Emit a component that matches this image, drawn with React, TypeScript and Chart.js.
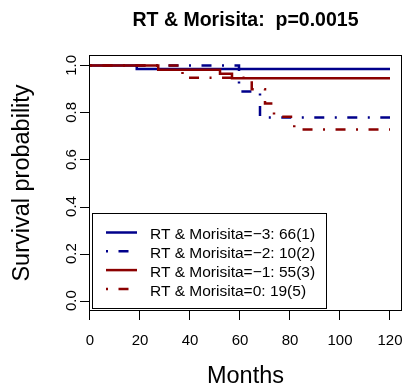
import { useEffect, useRef } from "react";
import { Chart, registerables } from "chart.js";

Chart.register(...registerables);

// Kaplan–Meier step data: time of each drop (months) and survival after it
const timesNeg3 = [0, 18.7, 120];
const survNeg3 = [1, 0.985, 0.985];
const timesNeg2 = [0, 59.6, 68, 120];
const survNeg2 = [1, 0.889, 0.778, 0.778];
const timesNeg1 = [0, 27.3, 52, 56.8, 120];
const survNeg1 = [1, 0.982, 0.964, 0.945, 0.945];
const timesZero = [0, 37, 64.7, 70, 73.6, 81.7, 120];
const survZero = [1, 0.947, 0.899, 0.838, 0.782, 0.728, 0.728];

const groupLabels = [
  "RT & Morisita=\u22123: 66(1)",
  "RT & Morisita=\u22122: 10(2)",
  "RT & Morisita=\u22121: 55(3)",
  "RT & Morisita=0: 19(5)",
];

const xTicks = [0, 20, 40, 60, 80, 100, 120];
const yTicks = [0, 0.2, 0.4, 0.6, 0.8, 1.0];
const yTickLabels = ["0.0", "0.2", "0.4", "0.6", "0.8", "1.0"];

const titleText = "RT & Morisita:  p=0.0015";
const xTitle = "Months";
const yTitle = "Survival probability";

const BLUE = "#00008B";
const RED = "#8B0000";
const DOTDASH = [2, 10.5, 10, 10.5];
const LINE_W = 2.5;
const FONT = '"Liberation Sans", Arial, Helvetica, sans-serif';

const groupStyles = [
  { color: BLUE, dash: [] as number[] },
  { color: BLUE, dash: DOTDASH },
  { color: RED, dash: [] as number[] },
  { color: RED, dash: DOTDASH },
];

const toPoints = (t: number[], s: number[]) => t.map((v, i) => ({ x: v, y: s[i] }));

const baseAxesPlugin = {
  id: "baseAxes",
  afterDraw(chart: any) {
    const { ctx, chartArea: a, scales } = chart;
    const x = scales.x;
    const y = scales.y;
    ctx.save();
    ctx.strokeStyle = "#000";
    ctx.fillStyle = "#000";
    ctx.lineWidth = 1;
    ctx.setLineDash([]);

    // plot frame
    ctx.strokeRect(a.left - 0.5, a.top - 0.5, a.right - a.left + 1, a.bottom - a.top + 1);

    // x axis ticks and labels
    ctx.font = `15px ${FONT}`;
    ctx.textAlign = "center";
    ctx.textBaseline = "alphabetic";
    const xl = Math.round(x.getPixelForValue(xTicks[0]));
    const xr = Math.round(x.getPixelForValue(xTicks[xTicks.length - 1]));
    ctx.beginPath();
    ctx.moveTo(xl - 0.5, a.bottom + 0.5);
    ctx.lineTo(xr + 0.5, a.bottom + 0.5);
    xTicks.forEach((v) => {
      const px = Math.round(x.getPixelForValue(v)) - 0.5;
      ctx.moveTo(px, a.bottom);
      ctx.lineTo(px, a.bottom + 10);
    });
    ctx.stroke();
    xTicks.forEach((v) => {
      ctx.fillText(String(v), x.getPixelForValue(v), 345);
    });

    // y axis ticks and rotated labels
    ctx.beginPath();
    yTicks.forEach((v) => {
      const py = Math.round(y.getPixelForValue(v)) + 0.5;
      ctx.moveTo(a.left, py);
      ctx.lineTo(a.left - 10, py);
    });
    ctx.stroke();
    yTicks.forEach((v, i) => {
      ctx.save();
      ctx.translate(75.5, y.getPixelForValue(v));
      ctx.rotate(-Math.PI / 2);
      ctx.fillText(yTickLabels[i], 0, 0);
      ctx.restore();
    });

    // titles
    ctx.font = `bold 19.5px ${FONT}`;
    ctx.fillText(titleText, (a.left + a.right) / 2, 25.7);
    ctx.font = `23.5px ${FONT}`;
    ctx.fillText(xTitle, (a.left + a.right) / 2, 382.5);
    ctx.save();
    ctx.translate(28.5, (a.top + a.bottom) / 2);
    ctx.rotate(-Math.PI / 2);
    ctx.fillText(yTitle, 0, 0);
    ctx.restore();

    // legend
    const lx = 92.5, ly = 213.5, lw = 234, lh = 95;
    ctx.fillStyle = "#fff";
    ctx.fillRect(lx, ly, lw, lh);
    ctx.strokeStyle = "#000";
    ctx.lineWidth = 1;
    ctx.strokeRect(lx, ly, lw, lh);
    ctx.font = `15.5px ${FONT}`;
    ctx.textAlign = "left";
    groupLabels.forEach((label, i) => {
      const rowY = 232.5 + i * 18.8;
      const st = groupStyles[i];
      ctx.beginPath();
      ctx.strokeStyle = st.color;
      ctx.lineWidth = LINE_W;
      ctx.lineCap = "butt";
      ctx.setLineDash(st.dash);
      ctx.moveTo(106, rowY);
      ctx.lineTo(137, rowY);
      ctx.stroke();
      ctx.setLineDash([]);
      ctx.fillStyle = "#000";
      ctx.fillText(label, 150, rowY + 6.8);
    });

    ctx.restore();
  },
};

export default function App() {
  const canvasRef = useRef<HTMLCanvasElement | null>(null);

  useEffect(() => {
    const canvas = canvasRef.current;
    if (!canvas) return;
    const series = [
      toPoints(timesNeg3, survNeg3),
      toPoints(timesNeg2, survNeg2),
      toPoints(timesNeg1, survNeg1),
      toPoints(timesZero, survZero),
    ];
    const chart = new Chart(canvas, {
      type: "line",
      data: {
        datasets: series.map((pts, i) => ({
          label: groupLabels[i],
          data: pts,
          stepped: true,
          borderColor: groupStyles[i].color,
          borderWidth: LINE_W,
          borderDash: groupStyles[i].dash,
          borderCapStyle: "butt",
          pointRadius: 0,
          fill: false,
          order: groupLabels.length - 1 - i,
        })),
      },
      options: {
        responsive: false,
        devicePixelRatio: 1,
        animation: false,
        layout: { padding: { left: 90, right: 1, top: 56, bottom: 77 } },
        scales: {
          x: { type: "linear", min: 0, max: 124.4, display: false },
          y: { type: "linear", min: -0.04, max: 1.04, display: false },
        },
        plugins: {
          legend: { display: false },
          tooltip: { enabled: false },
          title: { display: false },
        },
      },
      plugins: [baseAxesPlugin],
    } as any);
    return () => chart.destroy();
  }, []);

  return (
    <div style={{ position: "absolute", left: 0, top: 0, width: 402, height: 387, background: "#fff" }}>
      <canvas ref={canvasRef} width={402} height={387} />
    </div>
  );
}
